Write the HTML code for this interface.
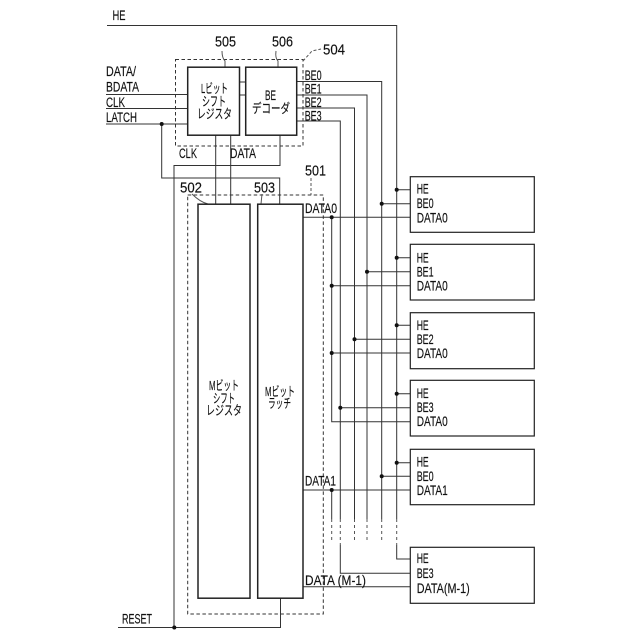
<!DOCTYPE html>
<html><head><meta charset="utf-8"><style>
html,body{margin:0;padding:0;background:#fff}
svg{display:block}
text{font-family:"Liberation Sans","Noto Sans CJK JP",sans-serif;fill:#111;font-size:13.5px;stroke:#111;stroke-width:.15px}
.n{font-size:15px}
.j{font-size:13px}
</style></head><body>
<svg width="640" height="640" viewBox="0 0 640 640" xmlns="http://www.w3.org/2000/svg">
<g fill="none" stroke="#333" stroke-width="1">
<!-- HE -->
<path d="M107 25.5H396.7V519"/>
<!-- input lines -->
<path d="M106 94.5H188M106 108.5H188M106 124H188"/>
<path d="M161.7 124V178H279.7V204"/>
<path d="M280 135V165.5H174V627.5"/>
<path d="M118 627.5H280.5V598"/>
<path d="M215.7 135V204M230.7 135V204"/>
<path d="M240 82H246M240 95H246"/>
<!-- BE lines -->
<path d="M297 81.5H381.7V519"/>
<path d="M297 95H367V519"/>
<path d="M297 108H354.5V519"/>
<path d="M297 121H340.3V519"/>
<!-- DATA0 -->
<path d="M303 217.3H410"/>
<path d="M331.7 217.3V421.7H410"/>
<path d="M396.7 189.7H410M381.7 203.7H410"/>
<path d="M396.7 257.7H410M367 271.7H410M331.7 285.7H410"/>
<path d="M396.7 325.3H410M354.5 339.3H410M331.7 353H410"/>
<path d="M396.7 393.7H410M340.3 407.7H410"/>
<path d="M396.7 462.7H410M381.7 476.3H410M303 490H410"/>
<path d="M331.7 490V519"/>
<!-- last box -->
<path d="M396.7 545V559H410"/>
<path d="M340.3 545V573.3H410"/>
<path d="M303 586.7H410"/>
</g>
<!-- dashed continuations -->
<g fill="none" stroke="#555" stroke-width="1" stroke-dasharray="3 3">
<path d="M331.7 519V540M340.3 519V545M354.5 519V541M367 519V541M381.7 519V541M396.7 519V545"/>
</g>
<!-- dashed boxes -->
<g fill="none" stroke="#333" stroke-width="1" stroke-dasharray="3.5 2.5">
<rect x="175.5" y="59.5" width="127.5" height="86.5"/>
<rect x="187.7" y="195" width="135.6" height="419"/>
</g>
<!-- leaders -->
<g fill="none" stroke="#555" stroke-width="1">
<path d="M222 51Q222 58 225 61V67" />
<path d="M276 51Q275 58 278 61V67" />
<path d="M303 61L312 51L321 49" stroke-dasharray="3 2"/>
<path d="M311 178V195" stroke-dasharray="3 2"/>
<path d="M192 194Q200 202 208 204"/>
<path d="M262 194L261 204"/>
</g>
<!-- solid boxes -->
<g fill="#fff" stroke="#222" stroke-width="1.5">
<rect x="187.7" y="67.2" width="51.8" height="68"/>
<rect x="245.7" y="67.2" width="51" height="68"/>
<rect x="198" y="204.2" width="52" height="394"/>
<rect x="257.7" y="204.2" width="45.3" height="394"/>
</g>
<g fill="#fff" stroke="#222" stroke-width="1.2">
<rect x="410.3" y="176.7" width="124" height="55.6"/>
<rect x="410.3" y="244.3" width="124" height="55.7"/>
<rect x="410.3" y="312.7" width="124" height="56"/>
<rect x="410.3" y="380.3" width="124" height="55.7"/>
<rect x="410.3" y="449.3" width="124" height="55.4"/>
<rect x="410.3" y="547.3" width="124" height="56"/>
</g>
<!-- dots -->
<g fill="#111">
<circle cx="161.7" cy="124" r="2"/>
<circle cx="174.3" cy="627.5" r="2"/>
<circle cx="396.7" cy="189.7" r="2"/><circle cx="381.7" cy="203.7" r="2"/><circle cx="331.7" cy="217.3" r="2"/>
<circle cx="396.7" cy="257.7" r="2"/><circle cx="367" cy="271.7" r="2"/><circle cx="331.7" cy="285.7" r="2"/>
<circle cx="396.7" cy="325.3" r="2"/><circle cx="354.5" cy="339.3" r="2"/><circle cx="331.7" cy="353" r="2"/>
<circle cx="396.7" cy="393.7" r="2"/><circle cx="340.3" cy="407.7" r="2"/>
<circle cx="396.7" cy="462.7" r="2"/><circle cx="381.7" cy="476.3" r="2"/><circle cx="331.7" cy="490" r="2"/>
</g>
<!-- labels -->
<g>
<text x="112.5" y="20" textLength="13" lengthAdjust="spacingAndGlyphs">HE</text>
<text x="106" y="76" textLength="30" lengthAdjust="spacingAndGlyphs">DATA/</text>
<text x="106" y="91.5" textLength="33" lengthAdjust="spacingAndGlyphs">BDATA</text>
<text x="106" y="107" textLength="19" lengthAdjust="spacingAndGlyphs">CLK</text>
<text x="106" y="122" textLength="31" lengthAdjust="spacingAndGlyphs">LATCH</text>
<text class="n" x="215" y="46.5" textLength="21" lengthAdjust="spacingAndGlyphs">505</text>
<text class="n" x="272" y="46.5" textLength="21" lengthAdjust="spacingAndGlyphs">506</text>
<text class="n" x="323" y="54.5" textLength="22" lengthAdjust="spacingAndGlyphs">504</text>
<text class="n" x="305" y="175.5" textLength="21" lengthAdjust="spacingAndGlyphs">501</text>
<text class="n" x="180" y="192.5" textLength="22" lengthAdjust="spacingAndGlyphs">502</text>
<text class="n" x="254" y="192.5" textLength="21" lengthAdjust="spacingAndGlyphs">503</text>
<text x="179" y="158" textLength="18" lengthAdjust="spacingAndGlyphs">CLK</text>
<text x="230" y="158" textLength="26" lengthAdjust="spacingAndGlyphs">DATA</text>
<text x="304.7" y="80" textLength="17" lengthAdjust="spacingAndGlyphs">BE0</text>
<text x="304.7" y="93.5" textLength="17" lengthAdjust="spacingAndGlyphs">BE1</text>
<text x="304.7" y="107" textLength="17" lengthAdjust="spacingAndGlyphs">BE2</text>
<text x="304.7" y="120.5" textLength="17" lengthAdjust="spacingAndGlyphs">BE3</text>
<text x="305" y="213" textLength="32" lengthAdjust="spacingAndGlyphs">DATA0</text>
<text x="305" y="485.5" textLength="31" lengthAdjust="spacingAndGlyphs">DATA1</text>
<text x="305" y="585" textLength="61" lengthAdjust="spacingAndGlyphs">DATA (M-1)</text>
<text x="122" y="623.5" textLength="30" lengthAdjust="spacingAndGlyphs">RESET</text>

<text x="416.7" y="193.5" textLength="12" lengthAdjust="spacingAndGlyphs">HE</text>
<text x="416.7" y="208" textLength="17" lengthAdjust="spacingAndGlyphs">BE0</text>
<text x="416.7" y="222.5" textLength="31" lengthAdjust="spacingAndGlyphs">DATA0</text>
<text x="416.7" y="262.5" textLength="12" lengthAdjust="spacingAndGlyphs">HE</text>
<text x="416.7" y="276.5" textLength="17" lengthAdjust="spacingAndGlyphs">BE1</text>
<text x="416.7" y="290.5" textLength="31" lengthAdjust="spacingAndGlyphs">DATA0</text>
<text x="416.7" y="330" textLength="12" lengthAdjust="spacingAndGlyphs">HE</text>
<text x="416.7" y="344" textLength="17" lengthAdjust="spacingAndGlyphs">BE2</text>
<text x="416.7" y="358" textLength="31" lengthAdjust="spacingAndGlyphs">DATA0</text>
<text x="416.7" y="398" textLength="12" lengthAdjust="spacingAndGlyphs">HE</text>
<text x="416.7" y="412" textLength="17" lengthAdjust="spacingAndGlyphs">BE3</text>
<text x="416.7" y="426" textLength="31" lengthAdjust="spacingAndGlyphs">DATA0</text>
<text x="416.7" y="466.5" textLength="12" lengthAdjust="spacingAndGlyphs">HE</text>
<text x="416.7" y="481" textLength="17" lengthAdjust="spacingAndGlyphs">BE0</text>
<text x="416.7" y="495" textLength="31" lengthAdjust="spacingAndGlyphs">DATA1</text>
<text x="416.7" y="563" textLength="12" lengthAdjust="spacingAndGlyphs">HE</text>
<text x="416.7" y="578" textLength="17" lengthAdjust="spacingAndGlyphs">BE3</text>
<text x="416.7" y="593" textLength="53" lengthAdjust="spacingAndGlyphs">DATA(M-1)</text>

<text class="j" x="201" y="93" textLength="27" lengthAdjust="spacingAndGlyphs">Lビット</text>
<text class="j" x="202" y="106" textLength="24" lengthAdjust="spacingAndGlyphs">シフト</text>
<text class="j" x="197" y="118.5" textLength="35" lengthAdjust="spacingAndGlyphs">レジスタ</text>
<text x="265" y="100" textLength="11" lengthAdjust="spacingAndGlyphs">BE</text>
<text class="j" x="252" y="113" textLength="38" lengthAdjust="spacingAndGlyphs">デコーダ</text>
<text class="j" x="209" y="390" textLength="30" lengthAdjust="spacingAndGlyphs">Mビット</text>
<text class="j" x="213" y="403" textLength="22" lengthAdjust="spacingAndGlyphs">シフト</text>
<text class="j" x="206" y="415" textLength="36" lengthAdjust="spacingAndGlyphs">レジスタ</text>
<text class="j" x="265" y="396" textLength="30" lengthAdjust="spacingAndGlyphs">Mビット</text>
<text class="j" x="268" y="408" textLength="23" lengthAdjust="spacingAndGlyphs">ラッチ</text>
</g>
</svg>
</body></html>
